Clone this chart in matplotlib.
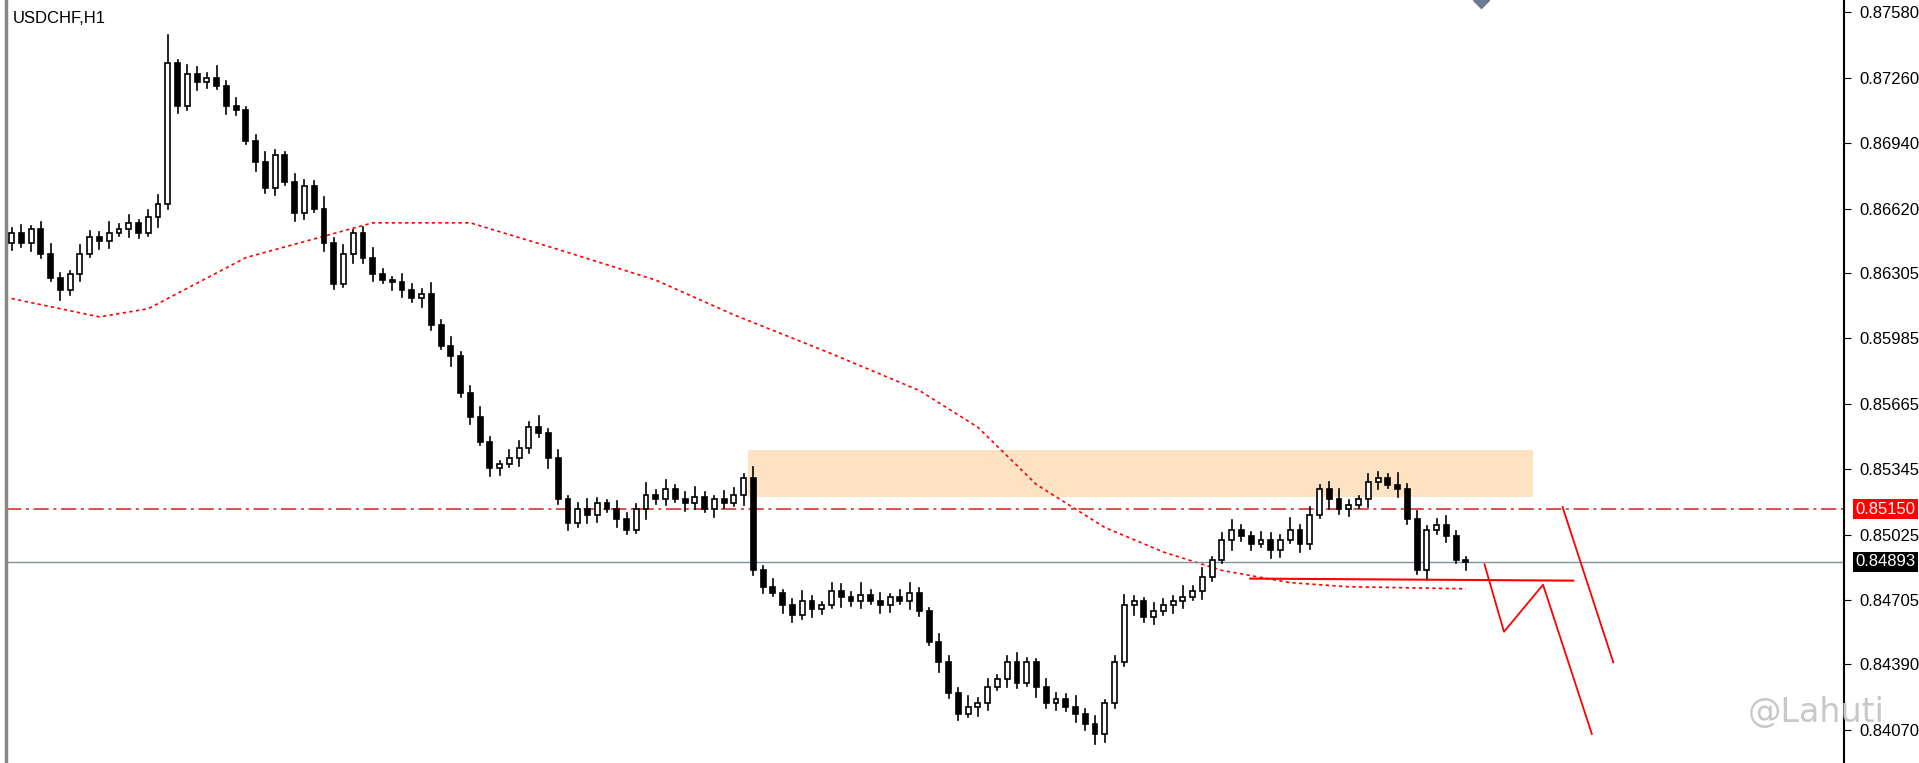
import matplotlib
matplotlib.use("Agg")
import matplotlib.pyplot as plt
from matplotlib.patches import Rectangle
import numpy as np

closes = [.8650,.8645,.8652,.8640,.8628,.8622,.8630,.8640,.8648,.8646,
.8650,.8652,.8655,.8650,.8658,.8664,.8733,.8712,.8728,.8724,
.8726,.8722,.8712,.8710,.8695,.8685,.8672,.8688,.8675,.8660,
.8673,.8662,.8645,.8625,.8640,.8650,.8638,.8630,.8627,.8626,
.8622,.8618,.8620,.8605,.8595,.8590,.8572,.8560,.8548,.8535,
.8537,.8540,.8545,.8555,.8552,.8540,.8520,.8508,.8515,.8512,
.8518,.8515,.8510,.8505,.8515,.8522,.8520,.8525,.8520,.8518,
.8521,.8515,.8520,.8518,.8522,.8530,.8485,.8477,.8474,.8468,
.8463,.8470,.8466,.8468,.8475,.8472,.8470,.8473,.8470,.8468,
.8472,.8470,.8474,.8465,.8450,.8440,.8425,.8415,.8418,.8420,
.8428,.8432,.8440,.8430,.8440,.8428,.8420,.8422,.8418,.8415,
.8410,.8405,.8420,.8440,.8468,.8470,.8462,.8465,.8468,.8470,
.8472,.8475,.8482,.8490,.8500,.8505,.8502,.8498,.8500,.8495,
.8500,.8505,.8498,.8512,.8525,.8520,.8515,.8517,.8520,.8528,
.8530,.8527,.8525,.8510,.8485,.8505,.8507,.8502,.8490,.84893]
first_open = .8645
wick_up = [3,5,2,4,6,3,2,5,4,3,7]
wick_dn = [4,2,5,3,2,6,3,4,2,5]

ma_x = [0,9,14,24,37,47,56,66,74,84,93,99,105,112,118,124,131,137,149]
ma_y = [.8618,.8609,.8613,.8638,.8655,.8655,.8642,.8627,.8610,.8591,.8573,.8555,.8527,.8506,.8494,.8485,.8479,.8477,.8476]

zone = (75.4, 155.9, .8521, .8544)
level_red = 0.85150
last_price = 0.84893
support = ([126.9, 160], [.8481, .8480])
zig1 = ([150.9, 152.9, 156.9, 161.9], [.8488, .8455, .8478, .8405])
zig2 = ([158.9, 164.1], [.8516, .8440])

ticks = [0.87580,0.87260,0.86940,0.86620,0.86305,0.85985,0.85665,0.85345,0.85025,0.84705,0.84390,0.84070]

fig = plt.figure(figsize=(19.19, 7.63), dpi=100)
ax = fig.add_axes([0.003, 0.0, 0.958, 1.0])
ax.set_xlim(-0.6, 187.75)
ax.set_ylim(0.83908, 0.87640)

opens = [first_open] + closes[:-1]
for i, (o, c) in enumerate(zip(opens, closes)):
    hi = max(o, c) + wick_up[i % len(wick_up)] * 0.00008
    lo = min(o, c) - wick_dn[i % len(wick_dn)] * 0.00008
    if i == 16: hi = .8747
    if i == 111: lo = .8400
    ax.plot([i, i], [lo, hi], color='black', lw=1.2, zorder=3)
    bottom = min(o, c); h = max(abs(c - o), 0.00003)
    ax.add_patch(Rectangle((i - 0.25, bottom), 0.5, h, facecolor='white' if c >= o else 'black',
                           edgecolor='black', lw=1.2, zorder=4))

ax.plot(ma_x, ma_y, color='red', lw=1.2, ls=(0, (2, 2)), zorder=2)
ax.add_patch(Rectangle((zone[0], zone[2]), zone[1]-zone[0], zone[3]-zone[2], facecolor='#fde3c4', edgecolor='none', zorder=1))
ax.axhline(level_red, color='#d42020', lw=1.1, ls=(0, (10, 3, 2, 3)), zorder=2)
ax.axhline(last_price, color='#8090a0', lw=1, zorder=2)
ax.plot(*support, color='red', lw=1.5, zorder=5)
ax.plot(*zig1, color='red', lw=1.3, zorder=5)
ax.plot(*zig2, color='red', lw=1.3, zorder=5)

ax.yaxis.tick_right()
ax.set_yticks(ticks)
ax.set_yticklabels([f"{t:.5f}" for t in ticks], fontsize=12, family='Liberation Sans')
ax.set_xticks([])
ax.tick_params(axis='y', length=5, pad=6)
for s in ['top', 'bottom']:
    ax.spines[s].set_visible(False)
ax.spines['right'].set_linewidth(1.5)
ax.spines['left'].set_linewidth(2.5)
ax.spines['left'].set_color('#888888')

for val, bg in [(level_red, 'red'), (last_price, 'black')]:
    ax.annotate(f"{val:.5f}", xy=(1.0, val), xycoords=('axes fraction', 'data'), xytext=(8, 0),
                textcoords='offset points', va='center', ha='left', fontsize=12, color='white',
                family='Liberation Sans', bbox=dict(boxstyle='square,pad=0.15', fc=bg, ec='none'), zorder=10)

ax.text(0.004, 0.985, "USDCHF,H1", transform=ax.transAxes, fontsize=12, va='top', family='Liberation Sans')
ax.text(0.985, 0.045, "@Lahuti", transform=ax.transAxes, fontsize=24, va='bottom', ha='center', color='#c8c8c8', zorder=9)
ax.plot([150.5], [.8764], marker='D', color='#6a7a90', ms=8, clip_on=False)

fig.savefig("out.png", dpi=100)
